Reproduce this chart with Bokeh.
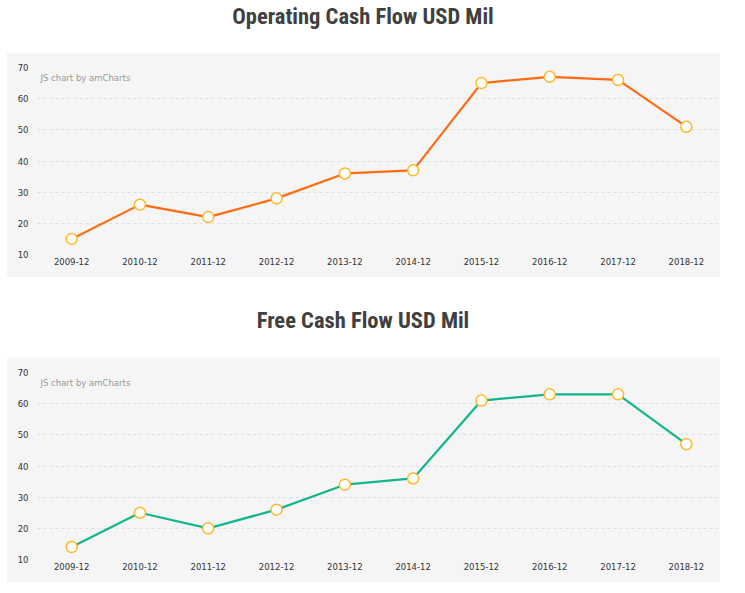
from bokeh.plotting import figure
from bokeh.models import FactorRange, Range1d, FixedTicker, Div, Label
from bokeh.layouts import column
from bokeh.embed import file_html
from bokeh.resources import INLINE

periods = ["2009-12", "2010-12", "2011-12", "2012-12", "2013-12",
           "2014-12", "2015-12", "2016-12", "2017-12", "2018-12"]
operating_cf = [15, 26, 22, 28, 36, 37, 65, 67, 66, 51]
free_cf = [14, 25, 20, 26, 34, 36, 61, 63, 63, 47]
y_ticks = [10, 20, 30, 40, 50, 60, 70]

titles = ["Operating Cash Flow USD Mil", "Free Cash Flow USD Mil"]
line_colors = ["#ff6a13", "#13b58a"]

TITLE_FONT = "'Roboto Condensed', 'DejaVu Sans Condensed', 'Liberation Sans Narrow', Roboto, sans-serif"


def make_title(text, height, pad_top):
    return Div(
        text=f'<div style="padding-top:{pad_top}px;line-height:30px;text-align:center;width:714px">{text}</div>',
        width=714, height=height, margin=(0, 0, 0, 6),
        styles={"font-size": "22.5px", "font-weight": "bold",
                "color": "#404040", "font-family": TITLE_FONT},
    )


def make_chart(values, color):
    p = figure(
        x_range=FactorRange(*periods), y_range=Range1d(10, 70),
        width=714, height=225, output_backend="svg", toolbar_location=None,
        background_fill_color="#f5f5f5", border_fill_color="#f5f5f5",
        outline_line_color=None, margin=(0, 0, 0, 6),
        min_border_left=31, min_border_right=0, min_border_top=15, min_border_bottom=23,
    )
    p.xgrid.grid_line_color = None
    p.ygrid.grid_line_color = "#dcdcdc"
    p.ygrid.grid_line_dash = "3 3"
    p.ygrid.grid_line_width = 1
    p.yaxis.ticker = FixedTicker(ticks=y_ticks)
    for ax in (p.xaxis, p.yaxis):
        ax.axis_line_color = None
        ax.major_tick_line_color = None
        ax.minor_tick_line_color = None
        ax.major_tick_out = 0
        ax.major_tick_in = 0
        ax.major_label_text_font = "DejaVu Sans"
        ax.major_label_text_font_size = "8.5px"
        ax.major_label_text_color = "#333333"
    p.xaxis.major_label_standoff = 3
    p.yaxis.major_label_standoff = 9

    p.line(periods, values, line_color=color, line_width=2.2)
    p.scatter(periods, values, size=11, fill_color="white",
              line_color="#fdb92b", line_width=1.5)

    p.add_layout(Label(x=0, y=70, x_offset=3, y_offset=-10, text="JS chart by amCharts",
                       text_font="DejaVu Sans", text_font_size="8.5px",
                       text_color="#999999", text_baseline="middle"))
    return p


layout = column(
    make_title(titles[0], 52, 0),
    make_chart(operating_cf, line_colors[0]),
    make_title(titles[1], 80, 28),
    make_chart(free_cf, line_colors[1]),
    spacing=0,
)

open("out.html", "w").write(file_html(layout, INLINE))
